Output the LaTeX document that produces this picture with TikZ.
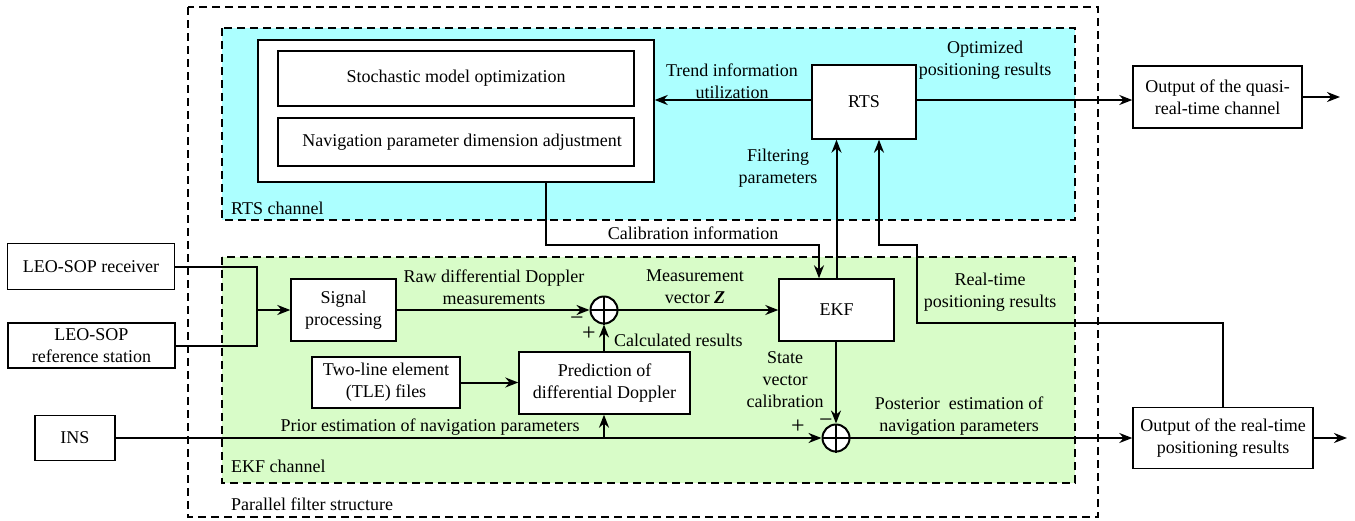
\documentclass[tikz,border=0pt]{standalone}
\usepackage{fontspec}
\setmainfont{Liberation Serif}
\usetikzlibrary{arrows.meta}
\definecolor{rtscyan}{RGB}{172,255,255}
\definecolor{ekfgreen}{RGB}{216,252,200}
\begin{document}
\begin{tikzpicture}[x=1pt,y=-1pt,
 font=\fontsize{18}{22}\selectfont,
 box/.style={draw, line width=1.4pt, fill=white, align=center, inner sep=2pt},
 conn/.style={line width=2pt},
 arr/.style={conn, -{Stealth[length=13pt,width=10pt]}},
 dashbox/.style={line width=2pt, dash pattern=on 8pt off 5pt},
 lbl/.style={align=center, inner sep=1pt},
 sign/.style={inner sep=0pt, font=\fontsize{24}{24}\selectfont},
 sumnode/.style={circle, draw, line width=2pt, minimum size=27pt, inner sep=0pt, fill=white},
]
\useasboundingbox (0,0) rectangle (1355,520);
% frames
\draw[dashbox] (188,7) rectangle (1098,517);
\draw[dashbox, fill=rtscyan] (222,28) rectangle (1075,220);
\draw[dashbox, fill=ekfgreen] (222,257) rectangle (1075,483);
\node[lbl, anchor=west] (lrts) at (230,208) {RTS channel};
\node[lbl, anchor=west] (lekf) at (230,466) {EKF channel};
\node[lbl, anchor=west] (lpar) at (230,504) {Parallel filter structure};
% nodes
\node[box, minimum width=396pt, minimum height=142pt] (big) at (456,111) {};
\node[box, minimum width=356pt, minimum height=55pt] (smo) at (456,78.5) {Stochastic model optimization};
\node[box, minimum width=356pt, minimum height=48pt] (npd) at (456,142) {\hspace*{12pt}Navigation parameter dimension adjustment};
\node[box, minimum width=104pt, minimum height=74pt] (rts) at (864,102) {RTS};
\node[box, minimum width=169pt, minimum height=62pt] (outq) at (1217.5,97) {Output of the quasi-\\real-time channel};
\node[box, minimum width=167pt, minimum height=46pt] (recv) at (91,266.5) {LEO-SOP receiver};
\node[box, minimum width=167pt, minimum height=45pt] (refst) at (91.5,345.5) {LEO-SOP\\reference station};
\node[box, minimum width=80pt, minimum height=45pt] (ins) at (75,438) {INS};
\node[box, minimum width=105pt, minimum height=62pt] (sig) at (343.5,310) {Signal\\processing};
\node[box, minimum width=148pt, minimum height=51pt] (tle) at (386,382.5) {Two-line element\\(TLE) files};
\node[box, minimum width=171pt, minimum height=62pt] (pred) at (604.5,383) {Prediction of\\differential Doppler};
\node[box, minimum width=115pt, minimum height=62pt] (ekf) at (836.5,310) {EKF};
\node[box, minimum width=180pt, minimum height=61pt] (outr) at (1223,438) {Output of the real-time\\positioning results};
\node[sumnode] (s1) at (604,310) {};
\node[sumnode] (s2) at (836,438) {};
\draw[line width=2pt] (s1.north)--(s1.south) (s1.west)--(s1.east);
\draw[line width=2pt] (s2.north)--(s2.south) (s2.west)--(s2.east);
% coordinates
\coordinate (jn) at (257,310);
\coordinate (pu) at (604,438);
\coordinate (calc) at (819,245);
\coordinate (r1) at (917,323);
\coordinate (r2) at (879,245);
\coordinate (qend) at (1340,97);
\coordinate (rend) at (1347,438);
% connectors
\draw[conn] (recv.east) -| (jn);
\draw[conn] (refst.east) -| (jn);
\draw[arr] (jn) -- (sig.west);
\draw[arr] (sig.east) -- (s1.west);
\draw[arr] (s1.east) -- (ekf.west);
\draw[arr] (tle.east) -- (tle.east -| pred.west);
\draw[arr] (s1 |- pred.north) -- (s1.south);
\draw[arr] (ins.east) -- (s2.west);
\draw[arr] (pu) -- (pu |- pred.south);
\draw[arr] (ekf.south -| s2) -- (s2.north);
\draw[arr] (s2.east) -- (outr.west);
\draw[arr] (outr.east) -- (rend);
\draw[arr] ([yshift=2pt]rts.west) -- ([yshift=2pt]rts.west -| big.east);
\draw[arr] ([yshift=2pt]rts.east) -- ([yshift=2pt]rts.east -| outq.west);
\draw[arr] (outq.east) -- (qend);
\draw[arr] (ekf.north) -- (ekf.north |- rts.south);
\draw[arr] ([xshift=90pt]big.south) |- (calc) -- (calc |- ekf.north);
\draw[arr] (outr.north) |- (r1) |- (r2) -- (r2 |- rts.south);
% labels
\node[lbl] (t1) at (732,81) {Trend information\\utilization};
\node[lbl] (t2) at (985,60) {Optimized\\positioning results};
\node[lbl] (t3) at (778,168) {Filtering\\parameters};
\node[lbl] (t4) at (693,233) {Calibration information};
\node[lbl] (t5) at (494,287) {Raw differential Doppler\\measurements};
\node[lbl] (t6) at (695,287) {Measurement\\vector \textbf{\textit{Z}}};
\node[lbl, anchor=west] (t7) at (613,340) {Calculated results};
\node[lbl] (t8) at (990,292) {Real-time\\positioning results};
\node[lbl] (t9) at (785,380) {State\\vector\\calibration};
\node[lbl] (t10) at (959,416) {Posterior\ \ estimation of\\navigation parameters};
\node[lbl] (t11) at (430,427) {Prior estimation of navigation parameters};
\node[sign] (m1) at (577,321) {−};
\node[sign] (p1) at (589,334) {+};
\node[sign] (p2) at (798,427) {+};
\node[sign] (m2) at (826,423) {−};
\end{tikzpicture}
\end{document}
